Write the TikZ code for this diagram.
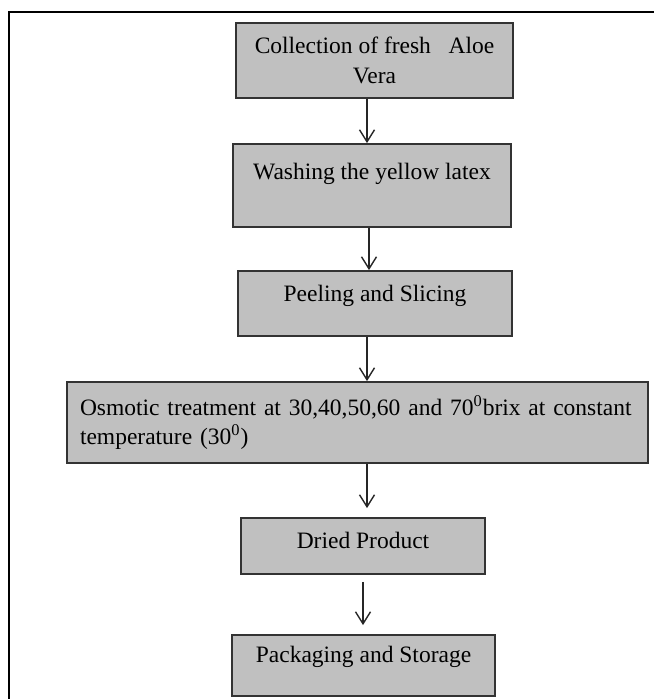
\documentclass[tikz,border=0pt]{standalone}
\usepackage{fontspec}
\setmainfont{Liberation Serif}
\usetikzlibrary{arrows.meta}

\definecolor{boxgray}{HTML}{C0C0C0}
\definecolor{edgegray}{HTML}{333333}

\tikzset{
  stage/.style={draw=edgegray, line width=0.9pt, fill=boxgray, inner sep=0pt,
    font=\fontsize{11.75}{14.75}\selectfont, align=center},
  flow/.style={-{Straight Barb[length=6pt,width=7.5pt]}, line width=0.7pt, draw=black!85},
}

\begin{document}
\begin{tikzpicture}[x=0.5pt, y=-0.5pt]

    \useasboundingbox (0,0) rectangle (654,699);

    % Frame (only top and left edges show)
    \draw[line width=1pt] (9,699) -- (9,12) -- (654,12);

    % Stages of the process
    \node[stage, minimum width=138.5pt, minimum height=37.5pt] (collect) at (374.5,60.5)
        {Collection of fresh~~~Aloe\\Vera};
    \node[stage, minimum width=139pt, text height=18pt, text depth=23.5pt] (wash) at (372,185.5)
        {Washing the yellow latex};
    \node[stage, minimum width=137pt, text height=15pt, text depth=17.5pt] (peel) at (375,303.5)
        {Peeling and Slicing};
    \node[stage, minimum width=290.5pt, minimum height=40.5pt, text width=277.5pt, align=left] (osmotic) at (357.5,422.5)
        {Osmotic treatment at 30,40,50,60 and 70\textsuperscript{0}brix at constant\\temperature (30\textsuperscript{0})};
    \node[stage, minimum width=122pt, text height=15pt, text depth=13pt] (dried) at (363,546)
        {Dried Product};
    \node[stage, minimum width=131.5pt, text height=13.5pt, text depth=17pt] (pack) at (363.5,665.5)
        {Packaging and Storage};

    % Arrows
    \draw[flow] ([xshift=-3.75pt]collect.south) -- ([xshift=-3.75pt]collect.south |- wash.north);
    \draw[flow] ([xshift=-1.5pt]wash.south) -- ([xshift=-1.5pt]wash.south |- peel.north);
    \draw[flow] ([xshift=-4pt]peel.south) -- ([xshift=-4pt]peel.south |- osmotic.north);
    \draw[flow, shorten >=4.5pt] ([xshift=4.75pt]osmotic.south) -- ([xshift=4.75pt]osmotic.south |- dried.north);
    \draw[flow, shorten <=3.5pt, shorten >=4.5pt] (dried.south) -- (dried.south |- pack.north);

\end{tikzpicture}
\end{document}
